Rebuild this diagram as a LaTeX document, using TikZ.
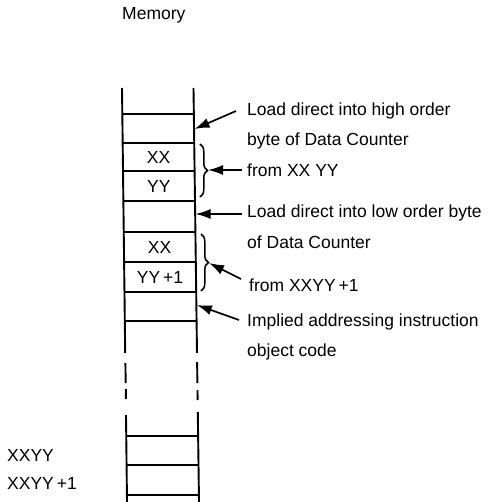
\documentclass[tikz,border=0pt]{standalone}
\usepackage{fontspec}
\setmainfont{Liberation Sans}
\usetikzlibrary{arrows.meta,decorations.pathreplacing}
\begin{document}
\begin{tikzpicture}[x=1pt,y=-1pt,
  col/.style={line width=1.9pt},
  sep/.style={line width=1.9pt},
  lbl/.style={anchor=base west,inner sep=0pt,font=\fontsize{17.5}{21}\selectfont},
  cell/.style={inner sep=0pt,font=\fontsize{17.5}{21}\selectfont},
  ptr/.style={line width=1.7pt,-{Latex[length=15pt,width=10pt]}},
  brc/.style={line width=1.5pt,decorate,decoration={brace,amplitude=7.5pt}}]
\useasboundingbox (0,0) rectangle (501,502);
% column edges
\draw[col] (122,88) -- (125.2,353);
\draw[col] (125.4,363) -- (125.7,383);
\draw[col] (125.8,389) -- (125.9,399);
\draw[col] (126.0,415) -- (127,502);
\draw[col] (193.5,88) -- (197,353);
\draw[col] (197.1,362) -- (197.4,383);
\draw[col] (197.5,390) -- (197.6,400);
\draw[col] (197.8,412) -- (199,502);
% separators
\draw[sep] (122.3,114) -- (193.8,114);
\draw[sep] (122.7,143) -- (194.2,143);
\draw[sep] (123.0,171) -- (194.6,171);
\draw[sep] (123.4,201) -- (195.0,201);
\draw[sep] (123.7,232) -- (195.4,232);
\draw[sep] (124.1,262) -- (195.8,262);
\draw[sep] (124.5,292) -- (196.2,292);
\draw[sep] (124.8,321) -- (196.6,321);
\draw[sep] (126.2,436) -- (198.1,436);
\draw[sep] (126.6,465) -- (198.5,465);
\draw[sep] (126.9,495) -- (198.9,495);
% cell texts
\node[cell] (c1) at (158.5,157) {XX};
\node[cell] (c2) at (158.8,186) {YY};
\node[cell] (c3) at (159.5,247) {XX};
\node[cell] (c4) at (160.0,277) {YY\,+1};
% titles and labels
\node[lbl] (mem) at (122,19.5) {Memory};
\node[lbl] (l1) at (247,115.5) {Load direct into high order};
\node[lbl] (l2) at (247,145.5) {byte of Data Counter};
\node[lbl] (l3) at (247,176.5) {from XX YY};
\node[lbl] (l4) at (247,217.5) {Load direct into low order byte};
\node[lbl] (l5) at (247,248.5) {of Data Counter};
\node[lbl] (l6) at (249,291.5) {from XXYY\,+1};
\node[lbl] (l7) at (247,326.5) {Implied addressing instruction};
\node[lbl] (l8) at (247,356.5) {object code};
\node[lbl] (a1) at (7,461) {XXYY};
\node[lbl] (a2) at (7,489) {XXYY\,+1};
% braces
\draw[brc] (200,144) -- (200,197);
\draw[brc] (201,234) -- (201,291);
% arrows
\coordinate (t1) at (236,111); \coordinate (h1) at (194.5,129);
\coordinate (t2) at (242,170); \coordinate (h2) at (208,170);
\coordinate (t3) at (242,214); \coordinate (h3) at (195.5,214);
\coordinate (t4) at (241,279); \coordinate (h4) at (209,263);
\coordinate (t5) at (239,320); \coordinate (h5) at (196.8,305);
\draw[ptr] (t1) -- (h1);
\draw[ptr] (t2) -- (h2);
\draw[ptr] (t3) -- (h3);
\draw[ptr] (t4) -- (h4);
\draw[ptr] (t5) -- (h5);
\end{tikzpicture}
\end{document}
